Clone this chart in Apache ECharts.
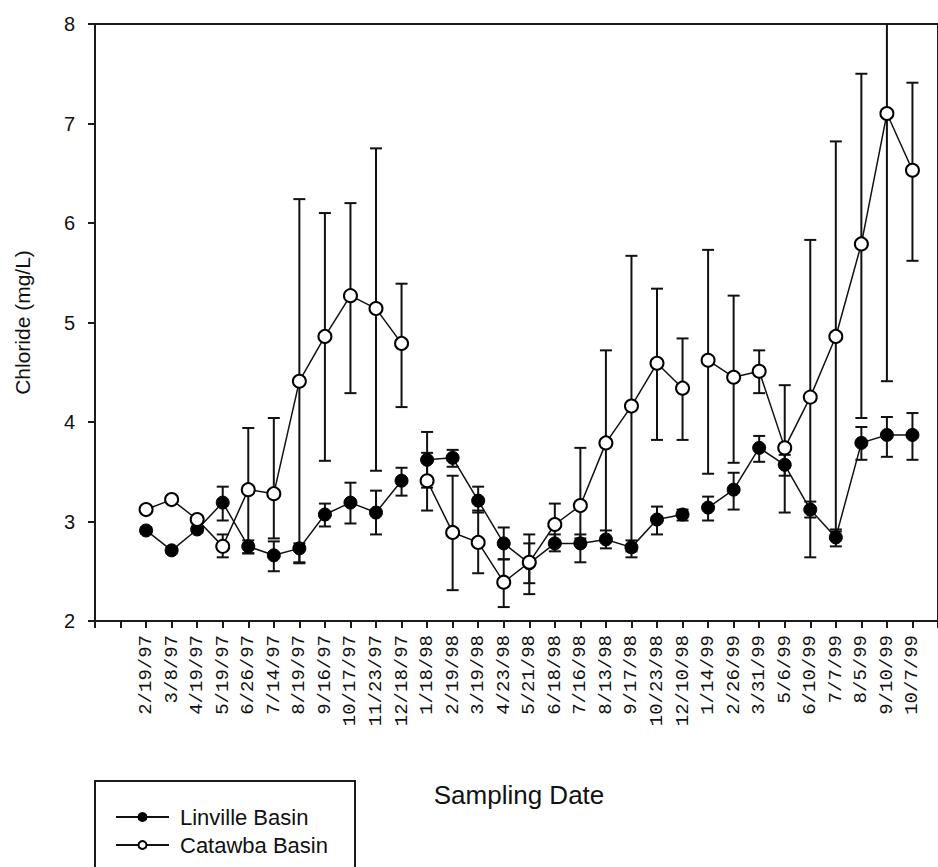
<!DOCTYPE html>
<html>
<head>
<meta charset="utf-8">
<script src="https://cdn.jsdelivr.net/npm/echarts@6/dist/echarts.min.js"></script>
<style>
html,body{margin:0;padding:0;background:#fff;}
#chart{width:938px;height:867px;}
</style>
</head>
<body>
<div id="chart"></div>
<script>
const categories = ['2/19/97','3/8/97','4/19/97','5/19/97','6/26/97','7/14/97','8/19/97','9/16/97','10/17/97','11/23/97','12/18/97',
  '1/18/98','2/19/98','3/19/98','4/23/98','5/21/98','6/18/98','7/16/98','8/13/98','9/17/98','10/23/98','12/10/98',
  '1/14/99','2/26/99','3/31/99','5/6/99','6/10/99','7/7/99','8/5/99','9/10/99','10/7/99'];

const linvilleMean = [2.91,2.71,2.92,3.19,2.75,2.66,2.73,3.07,3.19,3.09,3.41,3.62,3.64,3.21,2.78,2.58,2.78,2.78,2.82,2.74,3.02,3.07,3.14,3.32,3.74,3.57,3.12,2.84,3.79,3.87,3.87];
const linvilleLow  = [2.88,2.68,2.89,3.01,2.68,2.50,2.59,2.95,2.98,2.87,3.26,3.34,3.55,3.09,2.62,2.38,2.70,2.59,2.73,2.64,2.87,3.01,3.01,3.12,3.60,3.46,3.04,2.75,3.62,3.65,3.62];
const linvilleHigh = [2.94,2.74,2.95,3.35,2.81,2.80,2.78,3.18,3.39,3.31,3.54,3.90,3.72,3.35,2.94,2.78,2.87,2.87,2.91,2.81,3.15,3.12,3.25,3.49,3.86,3.67,3.20,2.92,3.95,4.05,4.09];

const catawbaMean = [3.12,3.22,3.02,2.75,3.32,3.28,4.41,4.86,5.27,5.14,4.79,3.41,2.89,2.79,2.39,2.59,2.97,3.16,3.79,4.16,4.59,4.34,4.62,4.45,4.51,3.74,4.25,4.86,5.79,7.10,6.53];
const catawbaLow  = [3.09,3.19,2.99,2.64,2.68,2.83,2.58,3.61,4.29,3.51,4.15,3.11,2.31,2.48,2.14,2.27,2.78,2.83,2.81,2.70,3.82,3.82,3.48,3.59,4.29,3.09,2.64,2.90,4.04,4.41,5.62];
const catawbaHigh = [3.15,3.25,3.05,2.87,3.94,4.04,6.24,6.10,6.20,6.75,5.39,3.69,3.46,3.11,2.62,2.87,3.18,3.74,4.72,5.67,5.34,4.84,5.73,5.27,4.72,4.37,5.83,6.82,7.50,9.79,7.41];

// line breaks between sampling years (after these category indices)
const breaksAfter = [10, 21];
const yTicks = [2,3,4,5,6,7,8];
const OFFSET = 2; // first category sits two slots right of the axis origin

function lineData(vals){
  const out = [];
  vals.forEach((v,i)=>{
    out.push([i+OFFSET, v]);
    if (breaksAfter.indexOf(i) >= 0) out.push([i+OFFSET+0.5, '-']);
  });
  return out;
}
function errData(lo, hi){
  return lo.map((l,i)=>[i+OFFSET, l, hi[i]]);
}

const YMIN = yTicks[0], YMAX = yTicks[yTicks.length-1];

function renderErr(params, api){
  const x = api.value(0);
  const lo = api.value(1), hi = api.value(2);
  const pLo = api.coord([x, Math.max(lo, YMIN)]);
  const pHi = api.coord([x, Math.min(hi, YMAX)]);
  const cap = 6;
  const st = {stroke:'#111', lineWidth:2};
  const children = [{type:'line', shape:{x1:pLo[0], y1:pLo[1], x2:pHi[0], y2:pHi[1]}, style:st}];
  if (hi <= YMAX) children.push({type:'line', shape:{x1:pHi[0]-cap, y1:pHi[1], x2:pHi[0]+cap, y2:pHi[1]}, style:st});
  if (lo >= YMIN) children.push({type:'line', shape:{x1:pLo[0]-cap, y1:pLo[1], x2:pLo[0]+cap, y2:pLo[1]}, style:st});
  return {type:'group', children};
}

const chart = echarts.init(document.getElementById('chart'), null, {renderer:'svg'});
const axisColor = '#1a1a1a';
chart.setOption({
  animation:false,
  backgroundColor:'#fff',
  grid:{left:95, top:24, width:852, height:597, show:true, borderColor:axisColor, borderWidth:2, backgroundColor:'transparent'},
  xAxis:{
    type:'value', min:0, max:33, interval:1,
    splitLine:{show:false},
    axisLine:{show:true, lineStyle:{color:axisColor, width:2}},
    axisTick:{show:true, inside:false, length:7, lineStyle:{color:axisColor, width:2}},
    axisLabel:{
      rotate:90, margin:14, fontSize:19, fontFamily:'"Liberation Mono", "DejaVu Sans Mono", monospace', color:'#111',
      showMinLabel:true, showMaxLabel:true,
      formatter:function(v){ const i = Math.round(v)-OFFSET; return (i>=0 && i<categories.length) ? categories[i] : ''; }
    }
  },
  yAxis:{
    type:'value', min:YMIN, max:YMAX, interval:1,
    splitLine:{show:false},
    axisLine:{show:true, lineStyle:{color:axisColor, width:2}},
    axisTick:{show:true, inside:false, length:7, lineStyle:{color:axisColor, width:2}},
    axisLabel:{margin:20, fontSize:20, fontFamily:'"Liberation Sans", Arial, sans-serif', color:'#111'},
    name:'Chloride (mg/L)', nameLocation:'middle', nameGap:62, nameRotate:90,
    nameTextStyle:{fontSize:21, fontFamily:'"Liberation Sans", Arial, sans-serif', color:'#111'}
  },
  legend:{
    orient:'vertical', left:110, top:801, itemWidth:53, itemHeight:10, itemGap:6,
    data:['Linville Basin','Catawba Basin'],
    textStyle:{fontSize:22, lineHeight:22, fontFamily:'"Liberation Sans", Arial, sans-serif', color:'#111', padding:[0,0,0,6]}
  },
  graphic:[
    {type:'rect', shape:{x:95, y:781, width:260, height:120}, style:{fill:'none', stroke:axisColor, lineWidth:2}, z:-1},
    {type:'text', x:519, y:795, style:{text:'Sampling Date', font:'26px "Liberation Sans", Arial, sans-serif', fill:'#111', align:'center', verticalAlign:'middle'}}
  ],
  series:[
    {type:'custom', name:'Linville err', data:errData(linvilleLow, linvilleHigh), renderItem:renderErr, z:1, silent:true},
    {type:'custom', name:'Catawba err', data:errData(catawbaLow, catawbaHigh), renderItem:renderErr, z:1, silent:true},
    {type:'line', name:'Linville Basin', data:lineData(linvilleMean), connectNulls:false, symbol:'circle', symbolSize:13,
      lineStyle:{color:'#111', width:1.5}, itemStyle:{color:'#000', borderColor:'#000', borderWidth:1}, z:2},
    {type:'line', name:'Catawba Basin', data:lineData(catawbaMean), connectNulls:false, symbol:'circle', symbolSize:13,
      lineStyle:{color:'#111', width:1.5}, itemStyle:{color:'#fff', borderColor:'#000', borderWidth:2}, z:3}
  ]
});
</script>
</body>
</html>
